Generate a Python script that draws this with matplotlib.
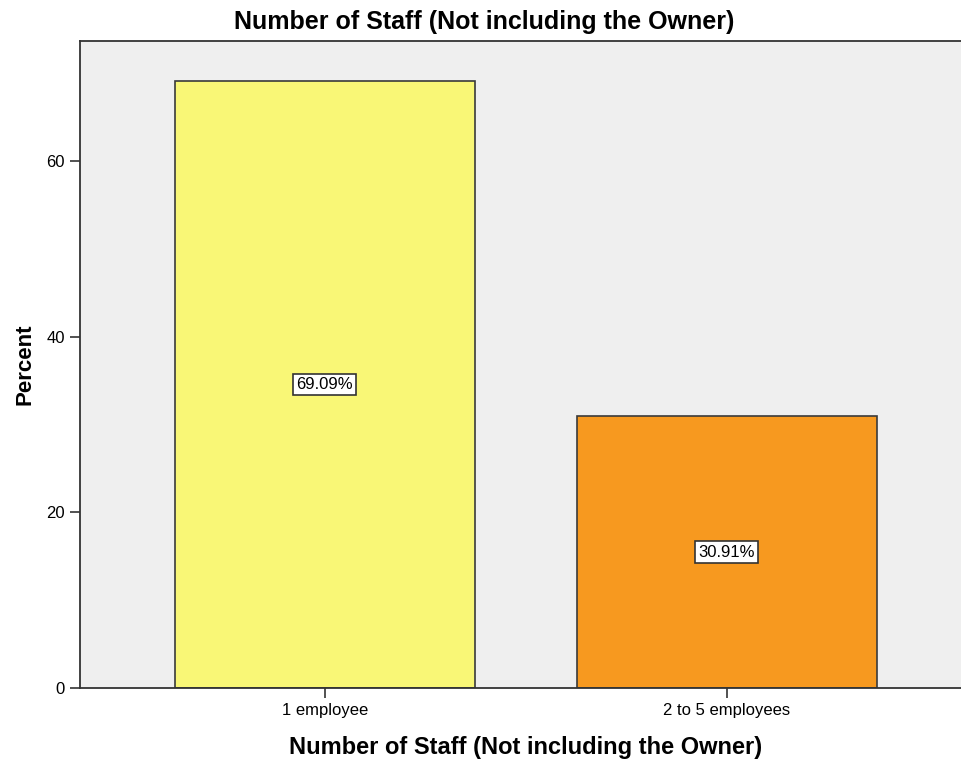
import matplotlib
matplotlib.use("Agg")
import matplotlib.pyplot as plt

categories = ["1 employee", "2 to 5 employees"]
percents = [69.09, 30.91]
bar_colors = ["#F9F776", "#F7991F"]
yticks = [0, 20, 40, 60]

plt.rcParams['font.family'] = ['Liberation Sans', 'DejaVu Sans']

fig = plt.figure(figsize=(9.62, 7.63), dpi=100)
ax = fig.add_axes([0.0832, 0.0983, 0.9168, 0.848])
ax.set_facecolor("#EFEFEF")

x = list(range(len(categories)))
ax.bar(x, percents, width=0.747, color=bar_colors, edgecolor="#3a3a3a", linewidth=1.2, zorder=2)

for xi, p in zip(x, percents):
    ax.text(xi, p / 2, f"{p:.2f}%", ha="center", va="center", fontsize=12,
            bbox=dict(boxstyle="square,pad=0.2", facecolor="white", edgecolor="#333333", linewidth=1.2),
            zorder=3)

ax.set_xlim(-0.609, 1.585)
ax.set_ylim(0, 73.66)
ax.set_xticks(x)
ax.set_xticklabels(categories, fontsize=12)
ax.set_yticks(yticks)
ax.set_yticklabels([str(t) for t in yticks], fontsize=12)
ax.tick_params(axis="both", direction="out", length=7, width=1.2, color="#333333", pad=4)

for s in ["left", "bottom", "top"]:
    ax.spines[s].set_color("#333333")
    ax.spines[s].set_linewidth(1.3)
ax.spines["right"].set_visible(False)

fig.text(0.503, 0.971, "Number of Staff (Not including the Owner)", fontsize=18,
         fontweight="bold", ha="center", va="center")
ax.set_xlabel("Number of Staff (Not including the Owner)", fontsize=17, fontweight="bold", labelpad=13)
ax.xaxis.label.set_x(0.5057)
ax.set_ylabel("Percent", fontsize=16, fontweight="bold", labelpad=8)

fig.savefig("out.png", dpi=100)
